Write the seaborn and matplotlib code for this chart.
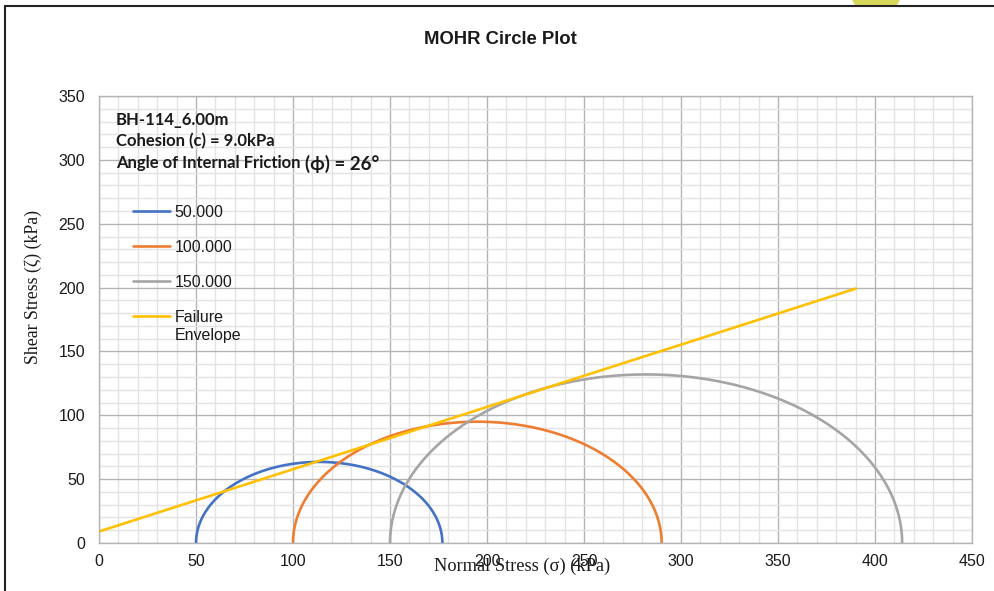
import numpy as np
import pandas as pd
import seaborn as sns
import matplotlib
matplotlib.use("Agg")
import matplotlib.pyplot as plt
from matplotlib.ticker import MultipleLocator
from matplotlib.patches import Polygon

# Test results: confining (minor) and failure (major) principal stresses, kPa
sigma3 = [50, 100, 150]
sigma1 = [177, 290, 414]
series_labels = ["50.000", "100.000", "150.000"]
series_colors = ["#4472C4", "#ED7D31", "#A5A5A5"]

# Mohr-Coulomb strength parameters
cohesion = 9.0
phi_deg = 26
envelope_sigma = [0, 390]

sample_id = "BH-114_6.00m"

sns.set_theme(style="white")
plt.rcParams["font.family"] = ["Liberation Sans", "DejaVu Sans"]

# Build half-circles from centre/radius of each test
rows = []
theta = np.linspace(0, np.pi, 200)
for s3, s1, lab in zip(sigma3, sigma1, series_labels):
    c = (s1 + s3) / 2.0
    r = (s1 - s3) / 2.0
    for t in theta:
        rows.append({"sigma": c + r * np.cos(t), "tau": r * np.sin(t), "series": lab})
circles = pd.DataFrame(rows)

env_x = np.array(envelope_sigma, dtype=float)
env = pd.DataFrame({"sigma": env_x,
                    "tau": cohesion + env_x * np.tan(np.radians(phi_deg))})

fig = plt.figure(figsize=(9.95, 5.91), dpi=100)
ax = fig.add_axes([0.0995, 0.0812, 0.8774, 0.7563])

sns.lineplot(data=circles, x="sigma", y="tau", hue="series",
             hue_order=series_labels, palette=series_colors,
             sort=False, estimator=None, linewidth=1.9, ax=ax)
sns.lineplot(data=env, x="sigma", y="tau", color="#FFC000",
             linewidth=1.9, ax=ax, label="Failure")

ax.set_xlim(0, 450)
ax.set_ylim(0, 350)
ax.xaxis.set_major_locator(MultipleLocator(50))
ax.yaxis.set_major_locator(MultipleLocator(50))
ax.xaxis.set_minor_locator(MultipleLocator(10))
ax.yaxis.set_minor_locator(MultipleLocator(10))
ax.grid(which="major", color="#B4B4B4", linewidth=1.0)
ax.grid(which="minor", color="#E3E3E3", linewidth=1.0)
ax.set_axisbelow(True)
for sp in ax.spines.values():
    sp.set_color("#B4B4B4")
    sp.set_linewidth(1.0)
ax.tick_params(which="both", length=0)
ax.tick_params(axis="y", pad=10, labelsize=11.5, colors="#1a1a1a")
ax.tick_params(axis="x", pad=8, labelsize=11.5, colors="#1a1a1a")
ax.set_xlabel("")
ax.set_ylabel("")

leg = ax.legend(loc="upper left", bbox_to_anchor=(0.039, 0.757), frameon=False,
                fontsize=11.5, handlelength=2.3, handletextpad=0.3,
                labelspacing=1.26, borderaxespad=0, borderpad=0)
for t in leg.get_texts():
    t.set_color("#1a1a1a")
# second line of the envelope entry, placed under "Failure"
ax.annotate("Envelope", xy=(0, 0), xycoords=leg.get_texts()[-1],
            xytext=(0, -2.5), textcoords="offset points", va="top", ha="left",
            fontsize=11.5, color="#1a1a1a", zorder=20)

# Sample annotation
anno_font = ["Lato", "DejaVu Sans"]
x0 = 0.0195
ax.text(x0, 0.9463, sample_id, transform=ax.transAxes, fontsize=12,
        fontweight="bold", family=anno_font, va="center", color="#1a1a1a")
ax.text(x0, 0.8993, f"Cohesion (c) = {cohesion:.1f}kPa", transform=ax.transAxes,
        fontsize=12, fontweight="bold", family=anno_font, va="center", color="#1a1a1a")
t_ang = ax.text(x0, 0.850, "Angle of Internal Friction ", transform=ax.transAxes,
                fontsize=12, fontweight="bold", family=anno_font, va="center",
                color="#1a1a1a")
ax.annotate(f"(\u03d5) = {phi_deg}\u00b0", xy=(1, 0.45), xycoords=t_ang,
            xytext=(0, 0), textcoords="offset points", fontsize=13.5,
            fontweight="bold", family=anno_font, va="center", ha="left",
            color="#1a1a1a")

fig.text(0.5025, 1 - 40 / 591, "MOHR Circle Plot", ha="center", va="center",
         fontsize=13.3, fontweight="bold", color="#1a1a1a")
fig.text(522 / 995, 1 - 566 / 591, "Normal Stress (\u03c3) (kPa)", ha="center",
         va="center", fontsize=13.2, family=["Liberation Serif", "DejaVu Serif"],
         color="#1a1a1a")
fig.text(33 / 995, 1 - 287 / 591, "Shear Stress (\u03b6) (kPa)", ha="center",
         va="center", rotation=90, fontsize=12.8,
         family=["Liberation Serif", "DejaVu Serif"], color="#1a1a1a")

# Chart frame (left and top edges) and the yellow mark above it
fig.add_artist(plt.Line2D([5 / 995, 5 / 995], [0, 1 - 6 / 591],
                          transform=fig.transFigure, color="#222222", linewidth=1.5))
fig.add_artist(plt.Line2D([5 / 995, 1], [1 - 6 / 591, 1 - 6 / 591],
                          transform=fig.transFigure, color="#222222", linewidth=1.5))
fig.add_artist(Polygon([[852 / 995, 1], [900 / 995, 1], [897 / 995, 1 - 5 / 591],
                        [855 / 995, 1 - 5 / 591]], closed=True,
                       transform=fig.transFigure, facecolor="#D6D85C",
                       edgecolor="none"))

fig.savefig("out.png", dpi=100)
